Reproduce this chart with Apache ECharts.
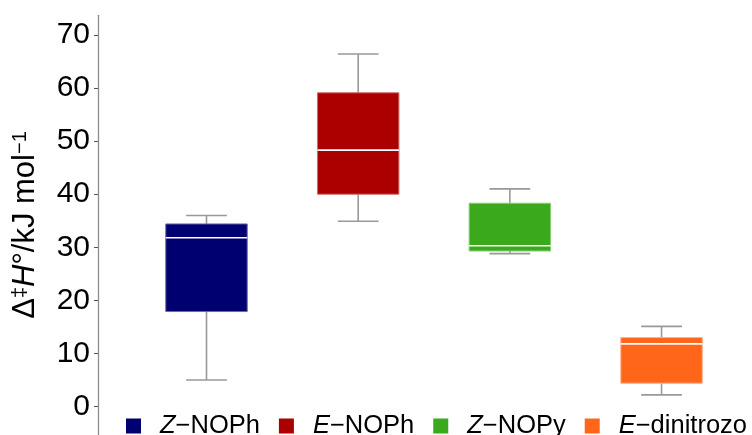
<!DOCTYPE html>
<html>
<head>
<meta charset="utf-8">
<script src="https://cdn.jsdelivr.net/npm/echarts@6/dist/echarts.min.js"></script>
<style>html,body{margin:0;padding:0;background:#fff;}#main{width:752px;height:435px;}</style>
</head>
<body>
<div id="main"></div>
<script>
const categories = ['Z−NOPh', 'E−NOPh', 'Z−NOPy', 'E−dinitrozo'];
const legendPrefix = ['Z', 'E', 'Z', 'E'];
const legendSuffix = ['−NOPh', '−NOPh', '−NOPy', '−dinitrozo'];
const minVals = [5.0, 34.9, 28.8, 2.2];
const q1Vals = [17.9, 40.0, 29.3, 4.4];
const medianVals = [31.8, 48.3, 30.3, 11.8];
const q3Vals = [34.4, 59.1, 38.3, 13.0];
const maxVals = [36.0, 66.4, 41.0, 15.1];
const yTicks = [0, 10, 20, 30, 40, 50, 60, 70];
const colors = ['#000070', '#aa0000', '#3aa91b', '#ff661a'];
const borders = ['#6a6aa8', '#d06a6a', '#8ccc78', '#ffb08a'];

const chart = echarts.init(document.getElementById('main'));

function renderItem(params, api) {
  const x = api.value(0);
  const pMin = api.coord([x, api.value(1)]);
  const pQ1 = api.coord([x, api.value(2)]);
  const pMed = api.coord([x, api.value(3)]);
  const pQ3 = api.coord([x, api.value(4)]);
  const pMax = api.coord([x, api.value(5)]);
  const cx = pMin[0];
  const bw = api.size([1, 0])[0] * 0.537;
  const cw = bw * 0.5;
  const whisk = { stroke: '#999999', lineWidth: 1.6 };
  const idx = params.seriesIndex;
  return {
    type: 'group',
    children: [
      { type: 'line', shape: { x1: cx, y1: pMax[1], x2: cx, y2: pQ3[1] }, style: whisk },
      { type: 'line', shape: { x1: cx, y1: pQ1[1], x2: cx, y2: pMin[1] }, style: whisk },
      { type: 'line', shape: { x1: cx - cw / 2, y1: pMax[1], x2: cx + cw / 2, y2: pMax[1] }, style: whisk },
      { type: 'line', shape: { x1: cx - cw / 2, y1: pMin[1], x2: cx + cw / 2, y2: pMin[1] }, style: whisk },
      { type: 'rect', shape: { x: cx - bw / 2, y: pQ3[1], width: bw, height: pQ1[1] - pQ3[1] },
        style: { fill: colors[idx], stroke: borders[idx], lineWidth: 1 } },
      { type: 'line', shape: { x1: cx - bw / 2, y1: pMed[1], x2: cx + bw / 2, y2: pMed[1] },
        style: { stroke: '#ffffff', lineWidth: 1.6 } }
    ]
  };
}

const series = categories.map((c, i) => ({
  name: c,
  type: 'custom',
  renderItem: renderItem,
  itemStyle: { color: colors[i] },
  encode: { x: 0, y: [1, 2, 3, 4, 5] },
  data: [[i, minVals[i], q1Vals[i], medianVals[i], q3Vals[i], maxVals[i]]]
}));

chart.setOption({
  animation: false,
  textStyle: { fontFamily: 'Liberation Sans, Arial, sans-serif' },
  grid: { left: 130.65, right: 14.6, top: 15.3, bottom: 0.3, containLabel: false },
  xAxis: {
    type: 'category',
    data: categories,
    show: false,
    boundaryGap: true
  },
  yAxis: {
    type: 'value',
    min: -5.3,
    max: 73.7,
    offset: 32.65,
    axisLine: { show: true, lineStyle: { color: '#8c8c8c', width: 1.3 } },
    axisTick: { show: true, length: 4, customValues: yTicks, lineStyle: { color: '#555', width: 1 } },
    axisLabel: { customValues: yTicks, fontSize: 30, color: '#000', margin: 8, fontFamily: 'Liberation Sans, Arial, sans-serif' },
    splitLine: { show: false },
    name: '{n|Δ}{s|‡}{i|H}{n|°/kJ mol}{s|−1}',
    nameLocation: 'middle',
    nameGap: 57,
    nameTextStyle: {
      rich: {
        n: { fontSize: 31, color: '#000', fontFamily: 'Liberation Sans, Arial, sans-serif' },
        i: { fontSize: 31, color: '#000', fontStyle: 'italic', fontFamily: 'Liberation Sans, Arial, sans-serif' },
        s: { fontSize: 20, color: '#000', verticalAlign: 'top', fontFamily: 'Liberation Sans, Arial, sans-serif' }
      }
    }
  },
  legend: {
    left: 121,
    top: 408,
    width: 720,
    icon: 'rect',
    itemWidth: 15,
    itemHeight: 15,
    itemGap: 19,
    data: categories,
    formatter: function (name) {
      const i = categories.indexOf(name);
      return '{i|' + legendPrefix[i] + '}{n|' + legendSuffix[i] + '}';
    },
    textStyle: {
      rich: {
        i: { fontSize: 25.5, fontStyle: 'italic', color: '#000', padding: [0, 0, 0, 14], fontFamily: 'Liberation Sans, Arial, sans-serif' },
        n: { fontSize: 25.5, color: '#000', fontFamily: 'Liberation Sans, Arial, sans-serif' }
      }
    }
  },
  series: series
});
</script>
</body>
</html>
